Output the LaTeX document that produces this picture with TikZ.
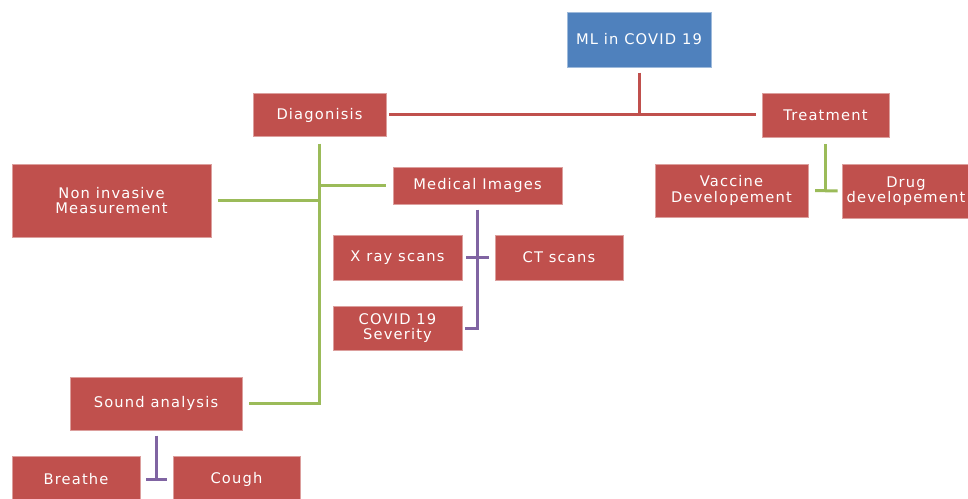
\documentclass[tikz,border=0pt]{standalone}
\usepackage{fontspec}
\setmainfont[LetterSpace=8]{DejaVu Sans}
\usetikzlibrary{positioning}
\definecolor{boxred}{HTML}{C0504D}
\definecolor{boxblue}{HTML}{4F81BD}
\definecolor{lnred}{HTML}{C0504D}
\definecolor{lngreen}{HTML}{9BBB59}
\definecolor{lnpurple}{HTML}{8064A2}
\begin{document}
\begin{tikzpicture}[
  x=0.75pt,y=-0.75pt,
  box/.style={draw=boxred!55!white,line width=0.6pt,fill=boxred,text=white,inner sep=0pt,
    align=center,font=\fontsize{11}{11.5}\selectfont},
  topbox/.style={box,draw=boxblue!55!white,fill=boxblue},
  redln/.style={lnred,line width=2.25pt},
  grnln/.style={lngreen,line width=2.25pt},
  purln/.style={lnpurple,line width=2.25pt},
]
\clip (0,0) rectangle (968,499);
\fill[white] (0,0) rectangle (968,499);
% ---------- root ----------
\node[topbox,minimum width=108pt,minimum height=41.25pt] (ml) at (639,39.5) {ML in COVID 19};
\node[box,minimum width=99.75pt,minimum height=32.25pt] (diag) at (319.5,115) {Diagonisis};
\node[box,minimum width=95.25pt,minimum height=33pt] (treat) at (825.5,115) {Treatment};
\draw[redln,shorten <=4pt] (ml.south) -- (ml.south |- diag.east);
\draw[redln,shorten <=2pt,shorten >=4pt] (diag.east) -- (treat.west);
% ---------- diagnosis branch ----------
\node[box,minimum width=149.25pt,minimum height=54.75pt] (noninv) at (111.5,200.5) {Non invasive\\Measurement};
\node[box,minimum width=126.75pt,minimum height=27.75pt] (med) at (477.5,185.5) {Medical Images};
\node[box,minimum width=129pt,minimum height=39.75pt] (sound) at (156,403.5) {Sound analysis};
\draw[grnln,shorten <=5pt,shorten >=5pt] (diag.south) |- (sound.east);
\draw[grnln,shorten >=5pt] (diag.south |- noninv.east) -- (noninv.east);
\draw[grnln,shorten >=5pt] (diag.south |- med.west) -- (med.west);
% medical images
\node[box,minimum width=96.75pt,minimum height=33.75pt] (xray) at (397.5,257.5) {X ray scans};
\node[box,minimum width=96pt,minimum height=33.75pt] (ct) at (559,257.5) {CT scans};
\node[box,minimum width=96.75pt,minimum height=33pt] (sev) at (397.5,328) {COVID 19\\Severity};
\draw[purln,shorten <=4pt,shorten >=2pt] (med.south) |- (sev.east);
\draw[purln,shorten <=3pt,shorten >=4pt] (xray.east) -- (ct.west);
% sound analysis
\node[box,minimum width=96pt,minimum height=34.5pt] (breathe) at (76,479) {Breathe};
\node[box,minimum width=95.25pt,minimum height=34.5pt] (cough) at (236.5,479) {Cough};
\draw[purln,shorten <=4pt] (sound.south) -- (sound.south |- breathe.east);
\draw[purln,shorten <=4.5pt,shorten >=4pt] (breathe.east) -- (cough.west);
% ---------- treatment branch ----------
\node[box,minimum width=114.75pt,minimum height=39.75pt] (vac) at (731.5,190.5) {Vaccine\\Developement};
\node[box,minimum width=96pt,minimum height=40.5pt] (drug) at (906,191) {Drug\\developement};
\draw[grnln,shorten <=5pt] (treat.south) -- (treat.south |- vac.east);
\draw[grnln,shorten <=5pt,shorten >=3pt] (vac.east) -- (drug.west);
\end{tikzpicture}
\end{document}
